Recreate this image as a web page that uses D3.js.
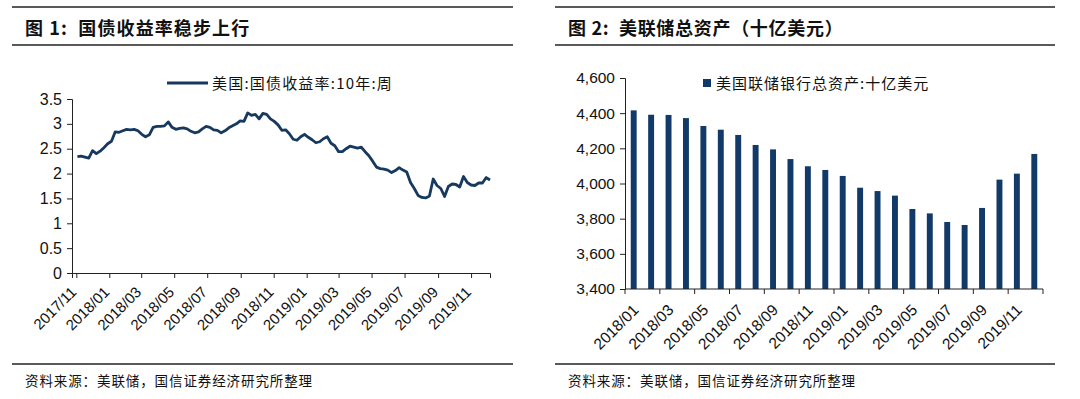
<!DOCTYPE html>
<html>
<head>
<meta charset="utf-8">
<script src="https://cdn.jsdelivr.net/npm/d3@7/dist/d3.min.js"></script>
<style>
  body { margin: 0; background: #fff; }
  svg { display: block; }
  .num { font-family: "Liberation Sans", Arial, sans-serif; fill: #111; }
  .cjk { font-family: "Noto Sans CJK SC", sans-serif; fill: #111; }
</style>
</head>
<body>
<svg id="svg" width="1080" height="399"></svg>
<script>
// ---- data ----
const yieldStart = "2017-11-03"  // first weekly observation (Friday)
const yieldValues = [
  2.34, 2.35, 2.33, 2.31, 2.46, 2.40, 2.45, 2.52, 2.60, 2.65,
  2.84, 2.83, 2.86, 2.89, 2.88, 2.89, 2.86, 2.79, 2.74, 2.78,
  2.93, 2.95, 2.95, 2.96, 3.04, 2.93, 2.89, 2.91, 2.92, 2.90,
  2.85, 2.82, 2.84, 2.90, 2.95, 2.93, 2.88, 2.87, 2.82, 2.86,
  2.92, 2.96, 3.00, 3.06, 3.05, 3.22, 3.17, 3.19, 3.10, 3.21,
  3.19, 3.10, 3.05, 2.98, 2.87, 2.88, 2.80, 2.69, 2.67, 2.74,
  2.79, 2.73, 2.68, 2.62, 2.64, 2.70, 2.74, 2.61, 2.56, 2.44,
  2.44, 2.50, 2.55, 2.53, 2.51, 2.53, 2.44, 2.36, 2.25, 2.13,
  2.10, 2.09, 2.07, 2.02, 2.06, 2.12, 2.07, 2.03, 1.82, 1.70,
  1.56, 1.52, 1.51, 1.55, 1.89, 1.76, 1.70, 1.54, 1.74, 1.79,
  1.78, 1.73, 1.94, 1.82, 1.77, 1.76, 1.81, 1.81, 1.92, 1.87
]
const yieldTickMonths = ["2017/11", "2018/01", "2018/03", "2018/05", "2018/07", "2018/09",
  "2018/11", "2019/01", "2019/03", "2019/05", "2019/07", "2019/09", "2019/11"]
const yieldTicks = [0, 0.5, 1, 1.5, 2, 2.5, 3, 3.5]

const fedMonths = ["2018/01", "2018/02", "2018/03", "2018/04", "2018/05", "2018/06",
  "2018/07", "2018/08", "2018/09", "2018/10", "2018/11", "2018/12",
  "2019/01", "2019/02", "2019/03", "2019/04", "2019/05", "2019/06",
  "2019/07", "2019/08", "2019/09", "2019/10", "2019/11", "2019/12"]
const fedAssets = [4416, 4391, 4390, 4372, 4327, 4306, 4276, 4219, 4194, 4139, 4098, 4077,
  4043, 3976, 3957, 3931, 3855, 3830, 3781, 3764, 3861, 4022, 4056, 4168]
const fedTicks = [3400, 3600, 3800, 4000, 4200, 4400, 4600]

const titles = ["图 1:  国债收益率稳步上行", "图 2:  美联储总资产（十亿美元）"]
const legends = ["美国:国债收益率:10年:周", "美国联储银行总资产:十亿美元"]
const source = "资料来源：美联储，国信证券经济研究所整理"

const lineColor = "#17395f"
const barColor = "#123a68"

const svg = d3.select("#svg")
const parse = d3.timeParse("%Y-%m-%d")
const parseMonth = d3.timeParse("%Y/%m")

// ---- frames (header/footer rules + titles) ----
const panels = [{x0: 12, x1: 513, tx: 25, ls: 1.1}, {x0: 555, x1: 1055, tx: 568, ls: 0.7}]
panels.forEach((p, i) => {
  [7, 45, 364].forEach(y => {
    svg.append("line").attr("x1", p.x0).attr("x2", p.x1).attr("y1", y).attr("y2", y)
      .attr("stroke", "#222").attr("stroke-width", 1.6)
  })
  svg.append("text").attr("class", "cjk").attr("x", p.tx).attr("y", 35)
    .attr("font-size", 18).attr("font-weight", "bold").attr("letter-spacing", p.ls)
    .attr("xml:space", "preserve")
    .text(titles[i])
  svg.append("text").attr("class", "cjk").attr("x", p.tx).attr("y", 386)
    .attr("font-size", 13.5).attr("letter-spacing", 0.9).attr("fill", "#333").text(source)
})

// ---- chart 1: line ----
const dates = yieldValues.map((v, i) => d3.timeDay.offset(parse(yieldStart), i * 7))
const x1 = d3.scaleTime().domain([parse("2017-10-24"), parse("2019-12-06")]).range([72, 490])
const y1 = d3.scaleLinear().domain([0, 3.5]).range([273, 99])

const gx1 = svg.append("g").attr("transform", "translate(0,273)")
  .call(d3.axisBottom(x1).tickValues(yieldTickMonths.map(parseMonth)).tickSize(5).tickFormat(""))
gx1.selectAll("line,path").attr("stroke", "#222")
svg.append("g").selectAll("text").data(yieldTickMonths).join("text")
  .attr("class", "num").attr("font-size", 15).attr("text-anchor", "end")
  .attr("transform", d => `translate(${x1(parseMonth(d)) + 1},${293}) rotate(-45)`)
  .text(d => d)

const gy1 = svg.append("g").attr("transform", "translate(72,0)")
  .call(d3.axisLeft(y1).tickValues(yieldTicks).tickSize(5).tickPadding(5).tickFormat(d3.format("")))
gy1.selectAll("line,path").attr("stroke", "#222")
gy1.selectAll("text").attr("class", "num").attr("font-size", 16).attr("font-family", null)

svg.append("path").datum(yieldValues)
  .attr("fill", "none").attr("stroke", lineColor).attr("stroke-width", 2.8)
  .attr("stroke-linejoin", "round")
  .attr("d", d3.line().x((d, i) => x1(dates[i])).y(d => y1(d)))

svg.append("line").attr("x1", 167).attr("x2", 208).attr("y1", 83).attr("y2", 83)
  .attr("stroke", lineColor).attr("stroke-width", 2.8)
svg.append("text").attr("class", "cjk").attr("x", 212).attr("y", 88.5)
  .attr("font-size", 15).attr("letter-spacing", 1.2).attr("fill", "#333").text(legends[0])

// ---- chart 2: bars ----
const x2 = d3.scaleBand().domain(fedMonths).range([625, 1043])
const y2 = d3.scaleLinear().domain([3400, 4600]).range([289, 78])
const bw = x2.bandwidth() * 0.34

svg.append("g").selectAll("rect").data(fedAssets).join("rect")
  .attr("x", (d, i) => x2(fedMonths[i]) + (x2.bandwidth() - bw) / 2)
  .attr("y", d => y2(d)).attr("width", bw).attr("height", d => y2(3400) - y2(d))
  .attr("fill", barColor)

const gx2 = svg.append("g")
gx2.append("line").attr("x1", 625).attr("x2", 1043).attr("y1", 289).attr("y2", 289).attr("stroke", "#222")
const boundary = d3.range(0, fedMonths.length + 1, 2)
gx2.selectAll("line.tk").data(boundary).join("line").attr("class", "tk")
  .attr("x1", i => 625 + i * x2.step()).attr("x2", i => 625 + i * x2.step())
  .attr("y1", 289).attr("y2", 294).attr("stroke", "#222")
const labeled = fedMonths.filter((d, i) => i % 2 === 0)
gx2.selectAll("text").data(labeled).join("text")
  .attr("class", "num").attr("font-size", 15.5).attr("text-anchor", "end")
  .attr("transform", d => `translate(${x2(d) + x2.bandwidth() / 2 + 6},${311}) rotate(-45)`)
  .text(d => d)

const gy2 = svg.append("g").attr("transform", "translate(625,0)")
  .call(d3.axisLeft(y2).tickValues(fedTicks).tickSize(5).tickPadding(5).tickFormat(d3.format(",")))
gy2.selectAll("line,path").attr("stroke", "#222")
gy2.selectAll("text").attr("class", "num").attr("font-size", 15.5).attr("font-family", null)

svg.append("rect").attr("x", 703).attr("y", 79).attr("width", 8).attr("height", 8).attr("fill", barColor)
svg.append("text").attr("class", "cjk").attr("x", 716).attr("y", 88.5)
  .attr("font-size", 15).attr("letter-spacing", 1).attr("fill", "#333").text(legends[1])
</script>
</body>
</html>
